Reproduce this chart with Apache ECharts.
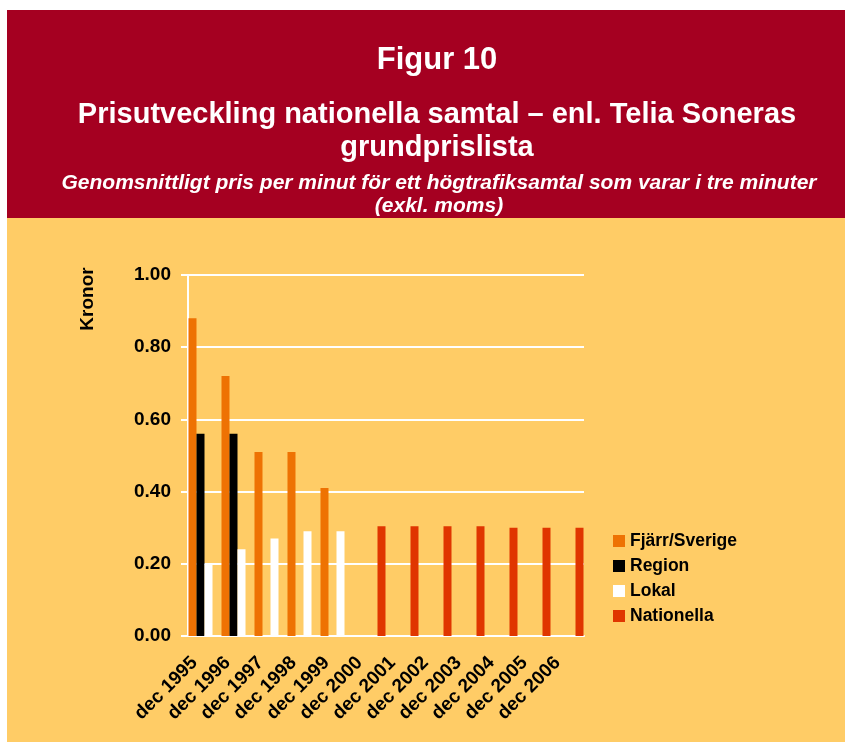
<!DOCTYPE html>
<html>
<head>
<meta charset="utf-8">
<script src="https://cdn.jsdelivr.net/npm/echarts@6/dist/echarts.min.js"></script>
<style>
  html, body { margin: 0; padding: 0; background: #fff; }
  #chart { width: 845px; height: 742px; }
</style>
</head>
<body>
<div id="chart"></div>
<script>
const categories = ["dec 1995", "dec 1996", "dec 1997", "dec 1998", "dec 1999", "dec 2000",
  "dec 2001", "dec 2002", "dec 2003", "dec 2004", "dec 2005", "dec 2006"];
const fjarr = [0.88, 0.72, 0.51, 0.51, 0.41, null, null, null, null, null, null, null];
const region = [0.56, 0.56, null, null, null, null, null, null, null, null, null, null];
const lokal = [0.20, 0.24, 0.27, 0.29, 0.29, null, null, null, null, null, null, null];
const nationella = [null, null, null, null, null, 0.304, 0.304, 0.304, 0.304, 0.30, 0.30, 0.30];
const yTicks = [0, 0.2, 0.4, 0.6, 0.8, 1.0];

const FONT = "Liberation Sans, Arial, sans-serif";
const chart = echarts.init(document.getElementById("chart"));

const bar = (name, data, color) => ({
  name: name,
  type: "bar",
  data: data,
  barGap: "0%",
  barCategoryGap: "3%",
  itemStyle: { color: color },
});

const option = {
  backgroundColor: "#ffffff",
  animation: false,
  textStyle: { fontFamily: FONT },
  graphic: [
    { type: "rect", shape: { x: 7, y: 10, width: 838, height: 208 }, style: { fill: "#A50021" }, z: -10 },
    { type: "rect", shape: { x: 7, y: 218, width: 838, height: 524 }, style: { fill: "#FFCC66" }, z: -10 },
    // y axis title, rotated
    { type: "text", x: 88, y: 299, rotation: Math.PI / 2,
      style: { text: "Kronor", fill: "#000", font: "bold 19px " + FONT, align: "center", verticalAlign: "middle" } },
  ],
  title: [
    { text: "Figur 10", left: 432, top: 40, textAlign: "center",
      textStyle: { color: "#fff", fontSize: 31, fontWeight: "bold", fontFamily: FONT } },
    { text: "Prisutveckling nationella samtal – enl. Telia Soneras\ngrundprislista", left: 432, top: 93, textAlign: "center",
      textStyle: { color: "#fff", fontSize: 29, fontWeight: "bold", lineHeight: 33, fontFamily: FONT } },
    { text: "Genomsnittligt pris per minut för ett högtrafiksamtal som varar i tre minuter\n(exkl. moms)", left: 434, top: 167, textAlign: "center",
      textStyle: { color: "#fff", fontSize: 21, fontWeight: "bold", fontStyle: "italic", lineHeight: 23, fontFamily: FONT } },
  ],
  legend: {
    orient: "vertical",
    left: 608,
    top: 527,
    icon: "rect",
    itemWidth: 12,
    itemHeight: 12,
    itemGap: 7,
    textStyle: { color: "#000", fontSize: 17.5, fontWeight: "bold", fontFamily: FONT },
    data: ["Fjärr/Sverige", "Region", "Lokal", "Nationella"],
  },
  grid: { left: 188, right: 261, top: 275, bottom: 106, containLabel: false },
  xAxis: {
    type: "category",
    data: categories,
    axisLine: { lineStyle: { color: "#fff", width: 2 } },
    axisTick: { lineStyle: { color: "#fff", width: 2 }, length: 6 },
    axisLabel: { rotate: 45, color: "#000", fontSize: 19, fontWeight: "bold", margin: 14, padding: [0, 14, 0, 0],
      interval: 0, fontFamily: FONT },
  },
  yAxis: {
    type: "value",
    min: yTicks[0],
    max: yTicks[yTicks.length - 1],
    interval: 0.2,
    axisLine: { show: true, lineStyle: { color: "#fff", width: 2 } },
    axisTick: { show: true, lineStyle: { color: "#fff", width: 2 }, length: 7 },
    splitLine: { lineStyle: { color: "#fff", width: 2 } },
    axisLabel: { color: "#000", fontSize: 19, fontWeight: "bold", margin: 17, formatter: (v) => v.toFixed(2), fontFamily: FONT },
  },
  series: [
    bar("Fjärr/Sverige", fjarr, "#EE7203"),
    bar("Region", region, "#000000"),
    bar("Lokal", lokal, "#FFFFFF"),
    bar("Nationella", nationella, "#E03500"),
  ],
};
chart.setOption(option);
</script>
</body>
</html>
